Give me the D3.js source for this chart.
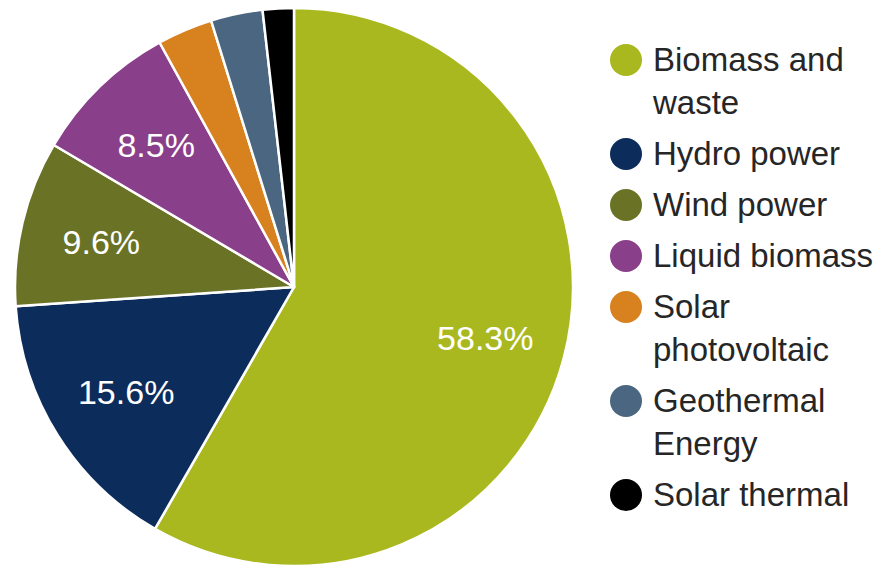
<!DOCTYPE html>
<html>
<head>
<meta charset="utf-8">
<script src="https://cdn.jsdelivr.net/npm/d3@7"></script>
<style>
  body { margin: 0; background: #fff; }
  svg { display: block; }
</style>
</head>
<body>
<div class="chart"></div>
<script>
// data
var categories = ['Biomass and waste', 'Hydro power', 'Wind power', 'Liquid biomass',
                  'Solar photovoltaic', 'Geothermal Energy', 'Solar thermal']
  , shares = [58.3, 15.6, 9.6, 8.5, 3.2, 3.0, 1.8]
  , sliceLabels = ['58.3%', '15.6%', '9.6%', '8.5%', '', '', '']
  , legendLines = [['Biomass and', 'waste'], ['Hydro power'], ['Wind power'], ['Liquid biomass'],
                   ['Solar', 'photovoltaic'], ['Geothermal', 'Energy'], ['Solar thermal']]
  , colors = ['#a9b81f', '#0c2d5c', '#6a7325', '#8a3f8b', '#d8821f', '#4b6680', '#000000'];

var w = 891
  , h = 565
  , cx = 294
  , cy = 287
  , r = 279
  , labelR = 198;

var svg = d3.select('.chart')
            .append('svg')
            .attr('width', w)
            .attr('height', h);

var color = d3.scaleOrdinal().domain(categories).range(colors);

var pie = d3.pie().sort(null).value(function (d) { return d.value; });

var rows = categories.map(function (c, i) {
  return { name: c, value: shares[i], label: sliceLabels[i] };
});

var arcs = pie(rows)
  , arc = d3.arc().innerRadius(0).outerRadius(r)
  , labelArc = d3.arc().innerRadius(labelR).outerRadius(labelR);

var g = svg.append('g').attr('transform', 'translate(' + cx + ',' + cy + ')');

g.selectAll('path')
  .data(arcs)
  .enter()
  .append('path')
  .attr('d', arc)
  .attr('fill', function (d) { return color(d.data.name); })
  .attr('stroke', '#fff')
  .attr('stroke-width', 2.5)
  .attr('stroke-linejoin', 'round');

g.selectAll('text.pct')
  .data(arcs.filter(function (d) { return d.data.label; }))
  .enter()
  .append('text')
  .attr('class', 'pct')
  .attr('transform', function (d) { return 'translate(' + labelArc.centroid(d) + ')'; })
  .attr('text-anchor', 'middle')
  .attr('dy', '0.36em')
  .attr('fill', '#fff')
  .style('font-family', 'Liberation Sans, Arial, sans-serif')
  .style('font-size', '34px')
  .text(function (d) { return d.data.label; });

// legend
var legendX = 626
  , lineH = 43
  , itemGap = 8
  , y0 = 60;

var ys = [];
legendLines.reduce(function (y, lines) {
  ys.push(y);
  return y + lines.length * lineH + itemGap;
}, y0);

var legend = svg.selectAll('g.item')
  .data(categories)
  .enter()
  .append('g')
  .attr('class', 'item')
  .attr('transform', function (d, i) { return 'translate(' + legendX + ',' + ys[i] + ')'; });

legend.append('circle')
  .attr('r', 16)
  .attr('fill', function (d) { return color(d); });

legend.append('text')
  .attr('x', 27)
  .attr('y', 11)
  .attr('fill', '#262626')
  .style('font-family', 'Liberation Sans, Arial, sans-serif')
  .style('font-size', '33px')
  .selectAll('tspan')
  .data(function (d, i) { return legendLines[i]; })
  .enter()
  .append('tspan')
  .attr('x', 27)
  .attr('dy', function (d, j) { return j ? lineH : 0; })
  .text(function (d) { return d; });
</script>
</body>
</html>
